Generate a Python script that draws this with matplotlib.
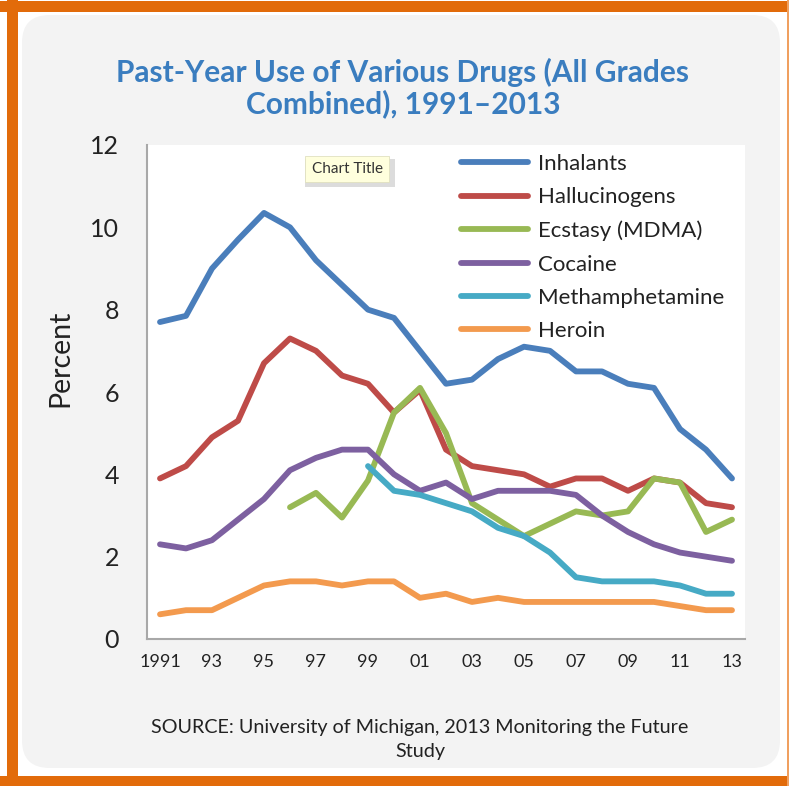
import numpy as np
import matplotlib
matplotlib.use("Agg")
import matplotlib.pyplot as plt
from matplotlib.patches import FancyBboxPatch, Rectangle

# Данні (відсоток вживання за рік, усі класи разом)
years = list(range(1991, 2014))
nan = np.nan
inhalants = [7.7, 7.85, 9.0, 9.7, 10.35, 10.0, 9.2, 8.6, 8.0, 7.8, 7.0, 6.2,
             6.3, 6.8, 7.1, 7.0, 6.5, 6.5, 6.2, 6.1, 5.1, 4.6, 3.9]
hallucinogens = [3.9, 4.2, 4.9, 5.3, 6.7, 7.3, 7.0, 6.4, 6.2, 5.5, 6.05, 4.6,
                 4.2, 4.1, 4.0, 3.7, 3.9, 3.9, 3.6, 3.9, 3.8, 3.3, 3.2]
ecstasy = [nan, nan, nan, nan, nan, 3.2, 3.55, 2.95, 3.85, 5.5, 6.1, 5.0,
           3.3, 2.9, 2.5, 2.8, 3.1, 3.0, 3.1, 3.9, 3.8, 2.6, 2.9]
cocaine = [2.3, 2.2, 2.4, 2.9, 3.4, 4.1, 4.4, 4.6, 4.6, 4.0, 3.6, 3.8,
           3.4, 3.6, 3.6, 3.6, 3.5, 3.0, 2.6, 2.3, 2.1, 2.0, 1.9]
meth = [nan, nan, nan, nan, nan, nan, nan, nan, 4.2, 3.6, 3.5, 3.3,
        3.1, 2.7, 2.5, 2.1, 1.5, 1.4, 1.4, 1.4, 1.3, 1.1, 1.1]
heroin = [0.6, 0.7, 0.7, 1.0, 1.3, 1.4, 1.4, 1.3, 1.4, 1.4, 1.0, 1.1,
          0.9, 1.0, 0.9, 0.9, 0.9, 0.9, 0.9, 0.9, 0.8, 0.7, 0.7]

series_names = ["Inhalants", "Hallucinogens", "Ecstasy (MDMA)", "Cocaine",
                "Methamphetamine", "Heroin"]
series_values = [inhalants, hallucinogens, ecstasy, cocaine, meth, heroin]
colors = ["#4A7EBB", "#BE4B48", "#98B954", "#7D60A0", "#46AAC5", "#F39A4E"]

tick_years = list(range(1991, 2014, 2))
tick_labels = ["1991", "93", "95", "97", "99", "01", "03", "05", "07", "09", "11", "13"]

W, H = 789, 786
plt.rcParams['font.family'] = ['Lato', 'DejaVu Sans']

fig = plt.figure(figsize=(W / 100, H / 100), dpi=100)
fig.patch.set_facecolor("white")

# Помаранчева рамка
orange = "#E26B0A"
for x0, y0, w, h, c in [(0, 1 - 12 / H, 1, 11 / H, orange),
                        (0, 0, 1, 10 / H, orange),
                        (7 / W, 0, 11 / W, 1, orange),
                        (787 / W, 0, 2 / W, 1, "#F0A060")]:
    fig.patches.append(Rectangle((x0, y0), w, h, transform=fig.transFigure,
                                 facecolor=c, edgecolor="none", zorder=-2))

# Сіра панель з заокругленими кутами
fig.patches.append(FancyBboxPatch((22 / W, 18 / H), (780 - 22) / W, (771 - 18) / H,
                                  boxstyle="round,pad=0,rounding_size=0.035",
                                  transform=fig.transFigure,
                                  facecolor="#F3F3F3", edgecolor="none", zorder=-1))

ax = fig.add_axes([147 / W, 147 / H, (745 - 147) / W, 494 / H])
ax.set_facecolor("white")

for name, vals, c in zip(series_names, series_values, colors):
    ax.plot(years, vals, color=c, linewidth=4.2, label=name,
            solid_capstyle="round", solid_joinstyle="round")

ax.set_xlim(1990.5, 2013.5)
ax.set_ylim(0, 12)
ax.set_yticks(range(0, 13, 2))
ax.set_xticks(tick_years)
ax.set_xticklabels(tick_labels)
ax.tick_params(axis="y", length=0, pad=20, labelsize=18, labelcolor="#222222")
ax.tick_params(axis="x", length=0, pad=11, labelsize=13, labelcolor="#222222")
for s in ["top", "right"]:
    ax.spines[s].set_visible(False)
for s in ["left", "bottom"]:
    ax.spines[s].set_color("#A8A8A8")
    ax.spines[s].set_linewidth(1.5)

leg = ax.legend(loc="upper left", bbox_to_anchor=(461 / W, 1 - 154 / H),
                bbox_transform=fig.transFigure, frameon=False, fontsize=16,
                handlelength=3.0, handletextpad=0.45, labelspacing=0.6,
                borderpad=0, borderaxespad=0)
for t in leg.get_texts():
    t.set_color("#222222")
for l in leg.get_lines():
    l.set_linewidth(4.2)

# Заголовок
fig.text(403 / W, 1 - 72 / H, "Past-Year Use of Various Drugs (All Grades",
         ha="center", va="center", fontsize=21.5, fontweight="bold", color="#3A7DBF")
fig.text(403 / W, 1 - 104 / H, "Combined), 1991\u20132013",
         ha="center", va="center", fontsize=21.5, fontweight="bold", color="#3A7DBF")

fig.text(60 / W, 1 - 358 / H, "Percent", rotation=90, ha="center", va="center",
         fontsize=20.5, color="#222222")

# Підказка "Chart Title"
fig.patches.append(Rectangle((305 / W, 1 - 187 / H), 90 / W, 28 / H,
                             transform=fig.transFigure, facecolor="#BBBBBB",
                             edgecolor="none", alpha=0.5, zorder=4))
fig.text(347 / W, 1 - 169 / H, "Chart Title", ha="center", va="center",
         fontsize=11, color="#333333", zorder=5,
         bbox=dict(boxstyle="square,pad=0.4", facecolor="#FFFFDD",
                   edgecolor="#E0E0C0", linewidth=0.6))

fig.text(420 / W, 1 - 728 / H, "SOURCE: University of Michigan, 2013 Monitoring the Future",
         ha="center", va="center", fontsize=14.2, color="#222222")
fig.text(420 / W, 1 - 752 / H, "Study", ha="center", va="center",
         fontsize=14.2, color="#222222")

fig.savefig("out.png", dpi=100)
